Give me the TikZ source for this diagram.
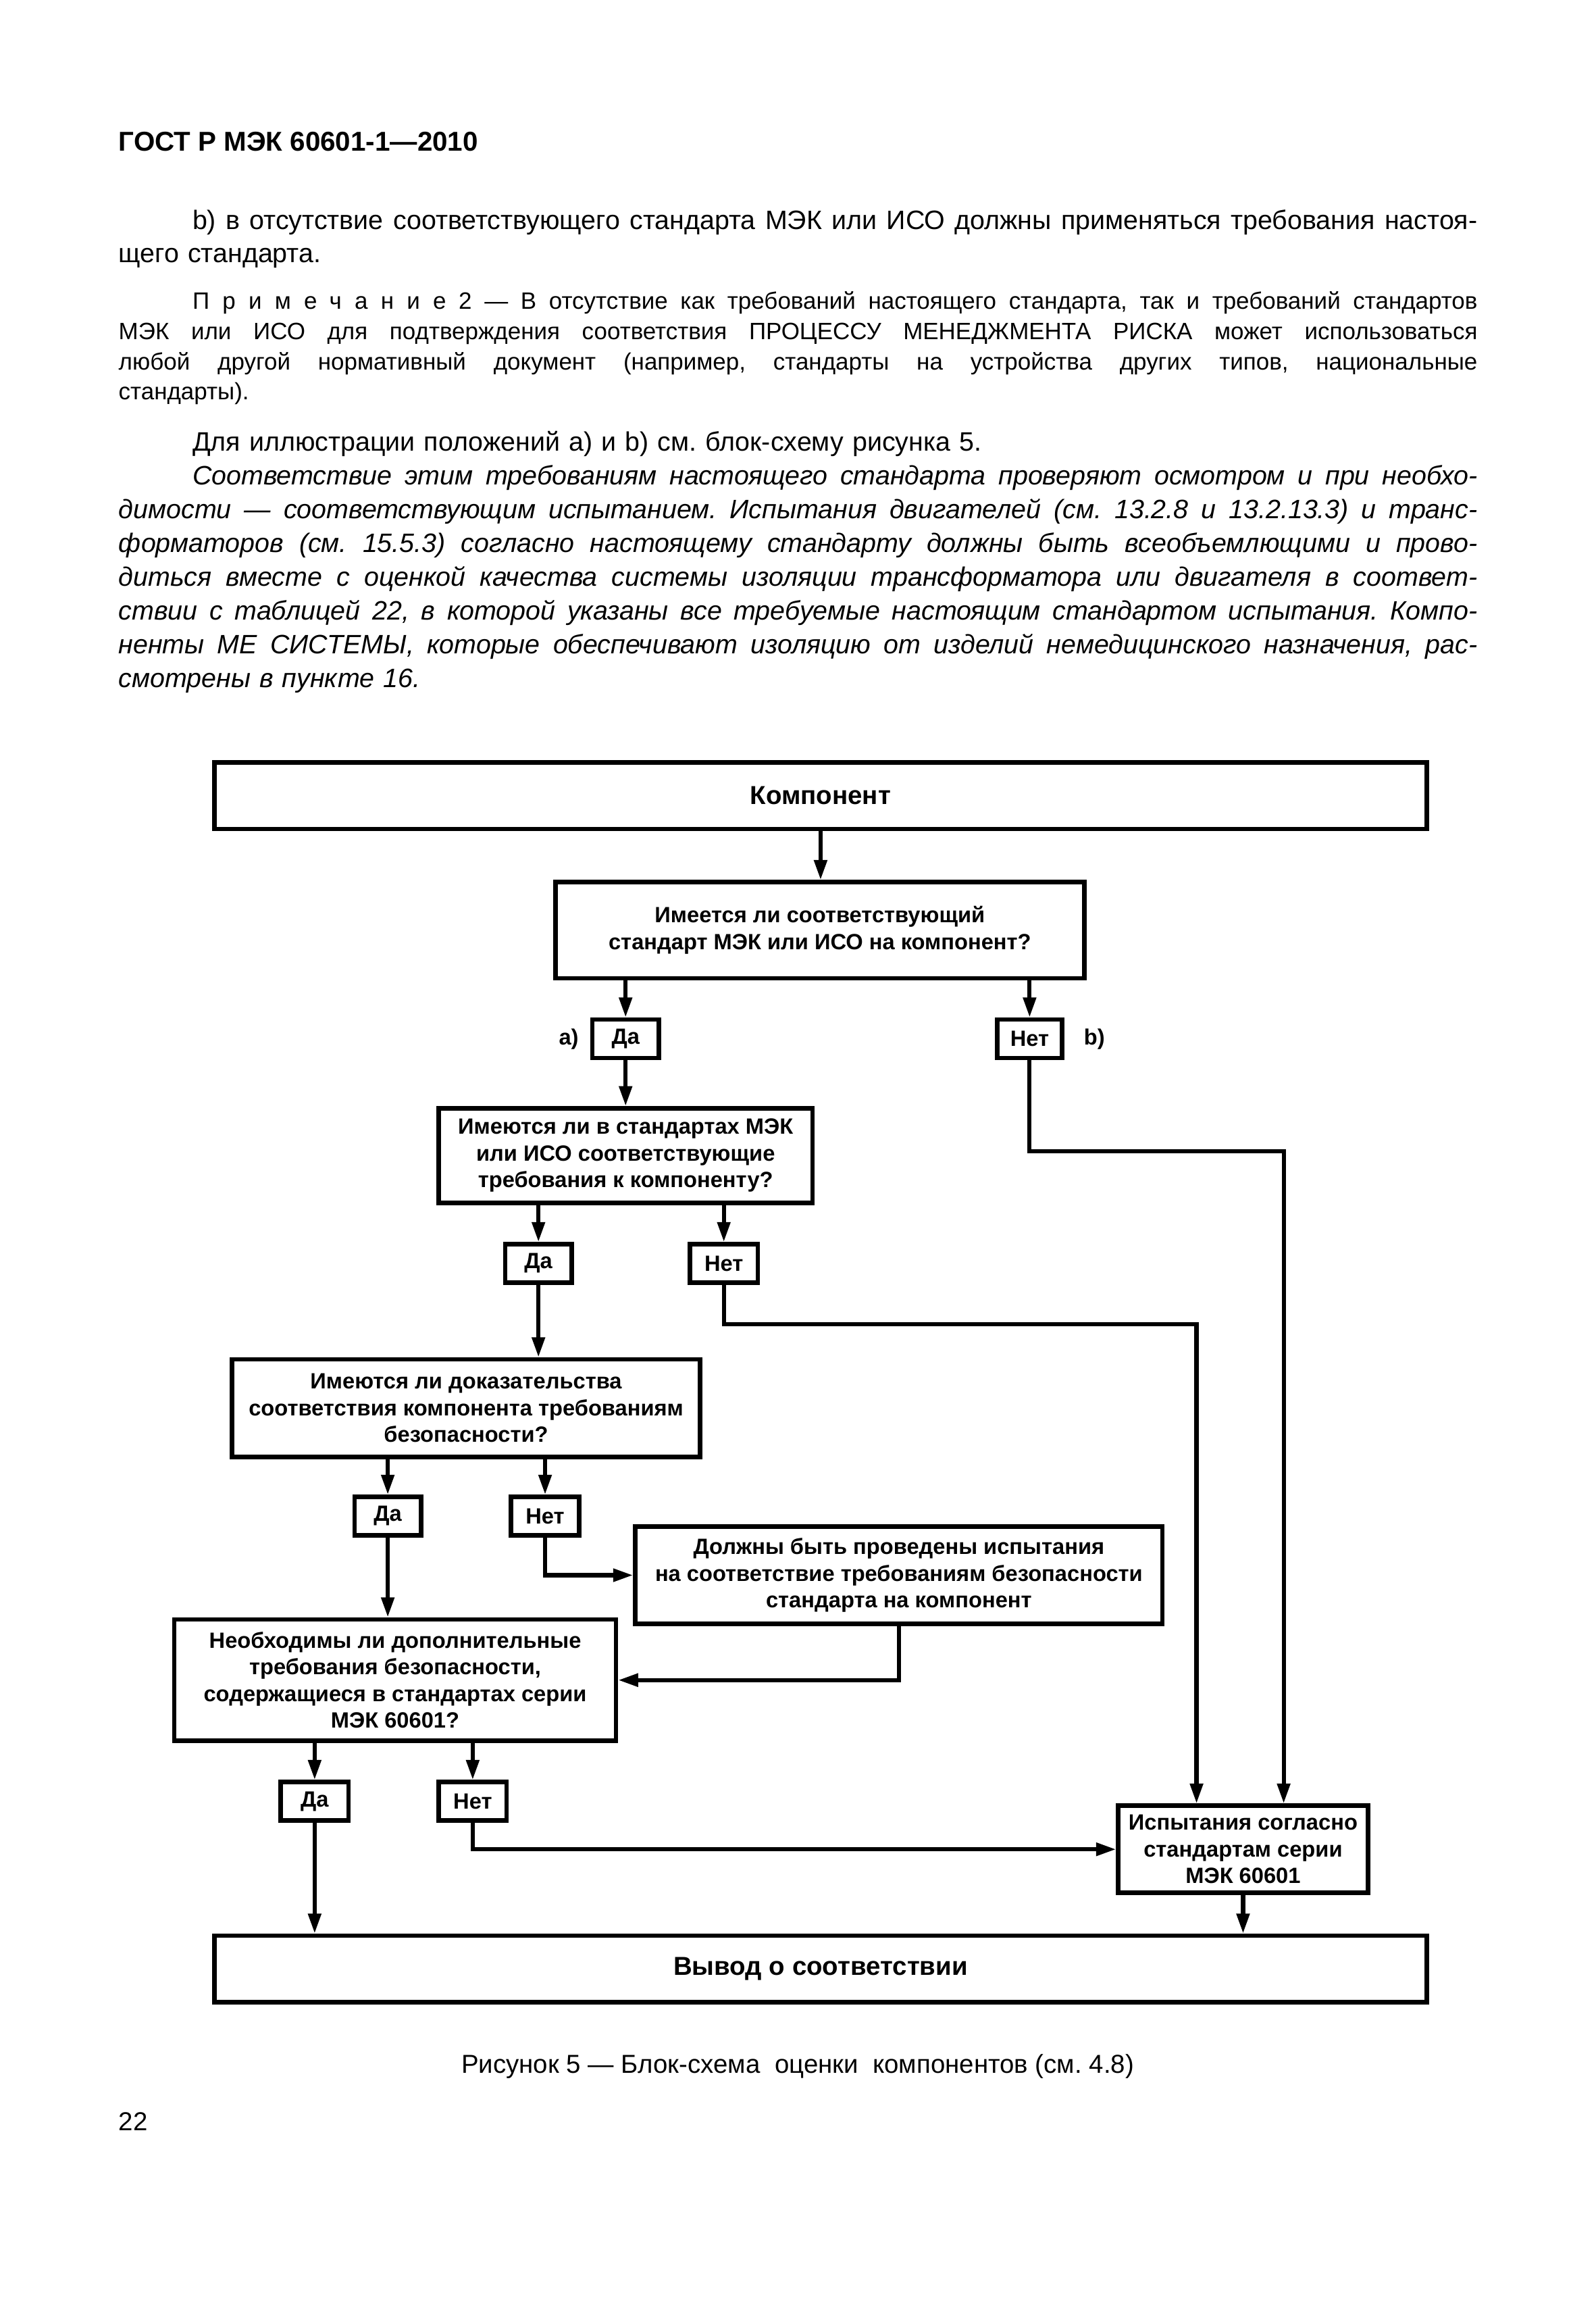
\documentclass[tikz,border=0pt]{standalone}
\usepackage{fontspec}
\setmainfont{Liberation Sans}
\usetikzlibrary{arrows.meta,positioning}
\frenchspacing
\newlength\txtw
\setlength\txtw{18.4cm}
\newcommand\jline[1]{\hbox to\txtw{\spaceskip=.278em plus 1fil minus .1em\relax #1}}
\newcommand\iline[1]{\jline{\hskip1cm #1}}
\newcommand\eline[1]{\hbox{#1}}
\newcommand\ieline[1]{\hbox{\hskip1cm #1}}
\begin{document}
\begin{tikzpicture}[x=0.02cm,y=-0.02cm,
    box/.style={draw,line width=1.7pt,align=center,inner sep=0pt,
      font=\bfseries\fontsize{8.5}{10.3}\selectfont},
    bigbox/.style={box,minimum width=16.42cm,minimum height=0.9cm,
      font=\bfseries\fontsize{10}{12}\selectfont},
    tag/.style={box,minimum width=0.9cm,minimum height=0.52cm},
    lbl/.style={inner sep=0pt,font=\bfseries\fontsize{8.5}{10}\selectfont},
    arr/.style={line width=1.6pt,-{Triangle[length=2.7mm,width=1.7mm]}},
    para/.style={anchor=base west,inner sep=0pt,text width=18.4cm}]
  \fill[white] (0,0) rectangle (1080,1566);
  % page text
  \node[anchor=base west,inner sep=0pt,font=\bfseries\fontsize{10.5}{12}\selectfont]
    (head) at (80,102) {ГОСТ Р МЭК 60601-1—2010};
  \node[para,font=\fontsize{10.25}{13}\selectfont] (pb) at (80,155)
    {\iline{b) в отсутствие соответствующего стандарта МЭК или ИСО должны применяться требования настоя-}\par
     \eline{щего стандарта.}};
  \node[para,font=\fontsize{9.1}{11.7}\selectfont] (note) at (80,209)
    {\iline{{\addfontfeature{LetterSpace=55}Примечание} 2 — В отсутствие как требований настоящего стандарта, так и требований стандартов}\par
     \jline{МЭК или ИСО для подтверждения соответствия ПРОЦЕССУ МЕНЕДЖМЕНТА РИСКА может использоваться}\par
     \jline{любой другой нормативный документ (например, стандарты на устройства других типов, национальные}\par
     \eline{стандарты).}};
  \node[para,font=\fontsize{10.25}{13}\selectfont] (illus) at (80,305)
    {\ieline{Для иллюстрации положений a) и b) см. блок-схему рисунка 5.}};
  \node[para,font=\itshape\fontsize{10.25}{13}\selectfont] (check) at (80,328)
    {\iline{Соответствие этим требованиям настоящего стандарта проверяют осмотром и при необхо-}\par
     \jline{димости — соответствующим испытанием. Испытания двигателей (см. 13.2.8 и 13.2.13.3) и транс-}\par
     \jline{форматоров (см. 15.5.3) согласно настоящему стандарту должны быть всеобъемлющими и прово-}\par
     \jline{диться вместе с оценкой качества системы изоляции трансформатора или двигателя в соответ-}\par
     \jline{ствии с таблицей 22, в которой указаны все требуемые настоящим стандартом испытания. Компо-}\par
     \jline{ненты МЕ СИСТЕМЫ, которые обеспечивают изоляцию от изделий немедицинского назначения, рас-}\par
     \eline{смотрены в пункте 16.}};
  % flowchart
  \node[bigbox] (comp) at (555.5,538.5) {Компонент};
  \node[box,minimum width=7.16cm,minimum height=1.3cm] (q1) at (555,629.5)
    {Имеется ли соответствующий\\стандарт МЭК или ИСО на компонент?};
  \node[tag] (yes1) at (423.5,703) {Да};
  \node[tag,minimum width=0.88cm] (no1) at (697,703) {Нет};
  \node[lbl,left=1.5mm of yes1] (la) {a)};
  \node[lbl,right=2.6mm of no1] (lb) {b)};
  \node[box,minimum width=5.06cm,minimum height=1.28cm] (q2) at (423.5,782)
    {Имеются ли в стандартах МЭК\\или ИСО соответствующие\\требования к компоненту?};
  \node[tag] (yes2) at (364.5,855) {Да};
  \node[tag,minimum width=0.92cm] (no2) at (490,855) {Нет};
  \node[box,minimum width=6.34cm,minimum height=1.32cm] (q3) at (315.5,953)
    {Имеются ли доказательства\\соответствия компонента требованиям\\безопасности?};
  \node[tag] (yes3) at (262.5,1026) {Да};
  \node[tag,minimum width=0.92cm] (no3) at (369,1026) {Нет};
  \node[box,minimum width=7.14cm,minimum height=1.32cm] (must) at (608.5,1066)
    {Должны быть проведены испытания\\на соответствие требованиям безопасности\\стандарта на компонент};
  \node[box,minimum width=5.98cm,minimum height=1.64cm] (q4) at (267.5,1137)
    {Необходимы ли дополнительные\\требования безопасности,\\содержащиеся в стандартах серии\\МЭК 60601?};
  \node[tag,minimum width=0.92cm] (yes4) at (213,1219) {Да};
  \node[tag,minimum width=0.92cm] (no4) at (320,1219) {Нет};
  \node[box,minimum width=3.38cm,minimum height=1.18cm] (tests) at (841.5,1251.5)
    {Испытания согласно\\стандартам серии\\МЭК 60601};
  \node[bigbox] (result) at (555.5,1332.5) {Вывод о соответствии};
  \coordinate (nob) at (869,779);
  \coordinate (noc) at (810,896);
  % connectors
  \draw[arr] (comp.south) -- (comp.south |- q1.north);
  \draw[arr] (yes1.north |- q1.south) -- (yes1.north);
  \draw[arr] (no1.north |- q1.south) -- (no1.north);
  \draw[arr] (yes1.south) -- (yes1.south |- q2.north);
  \draw[arr] (no1.south) |- (nob) -- (nob |- tests.north);
  \draw[arr] (yes2.north |- q2.south) -- (yes2.north);
  \draw[arr] (no2.north |- q2.south) -- (no2.north);
  \draw[arr] (yes2.south) -- (yes2.south |- q3.north);
  \draw[arr] (no2.south) |- (noc) -- (noc |- tests.north);
  \draw[arr] (yes3.north |- q3.south) -- (yes3.north);
  \draw[arr] (no3.north |- q3.south) -- (no3.north);
  \draw[arr] (no3.south) |- (must.west);
  \draw[arr] (yes3.south) -- (yes3.south |- q4.north);
  \draw[arr] (must.south) |- (q4.east);
  \draw[arr] (yes4.north |- q4.south) -- (yes4.north);
  \draw[arr] (no4.north |- q4.south) -- (no4.north);
  \draw[arr] (no4.south) |- (tests.west);
  \draw[arr] (yes4.south) -- (yes4.south |- result.north);
  \draw[arr] (tests.south) -- (tests.south |- result.north);
  % caption
  \node[anchor=base,inner sep=0pt,font=\fontsize{10}{12}\selectfont] (cap) at (540,1403)
    {Рисунок 5 — Блок-схема\ \ оценки\ \ компонентов (см.\ 4.8)};
  \node[anchor=base west,inner sep=0pt,font=\fontsize{10}{12}\selectfont] (page) at (80,1442) {22};
\end{tikzpicture}
\end{document}
